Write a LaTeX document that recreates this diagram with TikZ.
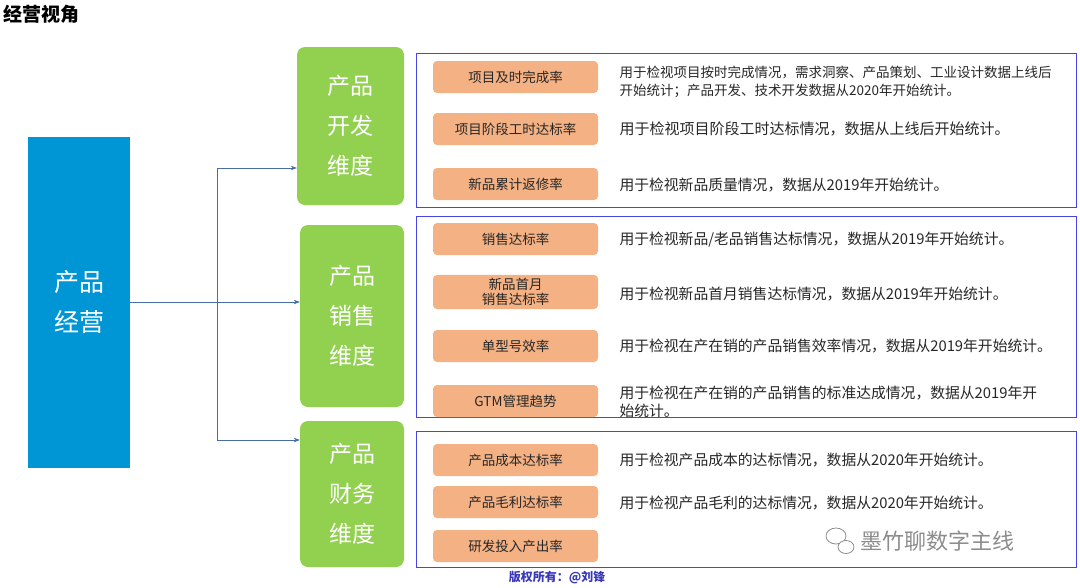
\documentclass[tikz,border=0pt]{standalone}
\usepackage{fontspec}
\setmainfont{Noto Sans CJK SC}
\newfontfamily\cjk{Noto Sans CJK SC}
\usetikzlibrary{arrows.meta}
\definecolor{mainblue}{RGB}{0,150,214}
\definecolor{gr}{RGB}{146,208,80}
\definecolor{ob}{RGB}{70,70,230}
\definecolor{org}{RGB}{244,177,131}
\definecolor{ln}{RGB}{70,110,160}
\tikzset{
 green/.style={draw=none,fill=gr,rounded corners=8pt,text=white,font=\fontsize{23}{40}\selectfont,align=center},
 outer/.style={draw=ob,line width=0.9pt},
 metric/.style={fill=org,rounded corners=4pt,minimum width=165pt,minimum height=32pt,font=\fontsize{13.5}{15}\selectfont\itshape,align=center,text=black!85},
 desc/.style={anchor=west,font=\fontsize{14.8}{18}\selectfont,align=left,text=black!85},
 conn/.style={draw=ln,line width=0.6pt,-{Stealth[length=6pt]}}
}
\begin{document}
\begin{tikzpicture}[x=1pt,y=-1pt]
\useasboundingbox (0,0) rectangle (1080,587);
\node[anchor=north west,font=\fontsize{19}{20}\selectfont\bfseries] (title) at (0,2) {经营视角};
\node[fill=mainblue,minimum width=102pt,minimum height=331pt,text=white,font=\fontsize{25}{40}\selectfont,align=center] (main) at (79,302.5) {产品\\经营};
\node[green,minimum width=107pt,minimum height=158pt] (g1) at (350.5,126) {产品\\开发\\维度};
\node[green,minimum width=104pt,minimum height=182pt] (g2) at (352,316) {产品\\销售\\维度};
\node[green,minimum width=104pt,minimum height=146pt] (g3) at (352,494) {产品\\财务\\维度};
\coordinate (j) at (217,302);
\draw[draw=ln,line width=0.6pt] (main.east|-j) -- (j);
\draw[conn] (j) |- (g1.west|-0,168);
\draw[conn] (j) -- (g2.west|-j);
\draw[conn] (j) |- (g3.west|-0,440);
\node[outer,minimum width=660pt,minimum height=154pt] (b1) at (746,130) {};
\node[outer,minimum width=660pt,minimum height=201pt] (b2) at (746,316.5) {};
\node[outer,minimum width=660pt,minimum height=136pt] (b3) at (746,499) {};
\foreach \n/\y/\t in {m1/77/项目及时完成率,m2/129/项目阶段工时达标率,m3/184/新品累计返修率,m4/239/销售达标率,m5/292/{新品首月\\销售达标率},m6/346/单型号效率,m7/401/GTM管理趋势,m8/460/产品成本达标率,m9/502/产品毛利达标率,m10/546/研发投入产出率}
  \node[metric] (\n) at (515.5,\y) {\t};
\node[desc,font=\fontsize{13.5}{18}\selectfont] (d1) at (616,82) {用于检视项目按时完成情况，需求洞察、产品策划、工业设计数据上线后\\开始统计；产品开发、技术开发数据从2020年开始统计。};
\node[desc,font=\fontsize{15}{18}\selectfont] (d2) at (616,129) {用于检视项目阶段工时达标情况，数据从上线后开始统计。};
\node[desc] (d3) at (616,185) {用于检视新品质量情况，数据从2019年开始统计。};
\node[desc] (d4) at (616,240) {用于检视新品/老品销售达标情况，数据从2019年开始统计。};
\node[desc] (d5) at (616,294) {用于检视新品首月销售达标情况，数据从2019年开始统计。};
\node[desc] (d6) at (616,346) {用于检视在产在销的产品销售效率情况，数据从2019年开始统计。};
\node[desc] (d7) at (616,402) {用于检视在产在销的产品销售的标准达成情况，数据从2019年开\\始统计。};
\node[desc] (d8) at (616,460) {用于检视产品成本的达标情况，数据从2020年开始统计。};
\node[desc] (d9) at (616,503) {用于检视产品毛利的达标情况，数据从2020年开始统计。};
\node[anchor=west,text=black!45,font=\fontsize{22}{24}\selectfont] (wm) at (857,541) {墨竹聊数字主线};
\draw[black!45,line width=0.8pt] (836,536) ellipse (10pt and 8pt);
\draw[black!45,line width=0.8pt,fill=white] (846,547) ellipse (8pt and 6.5pt);
\node[text=ob!80!black,font=\fontsize{12}{14}\selectfont\bfseries] (cp) at (557,578) {版权所有：@刘锋};
\end{tikzpicture}
\end{document}
